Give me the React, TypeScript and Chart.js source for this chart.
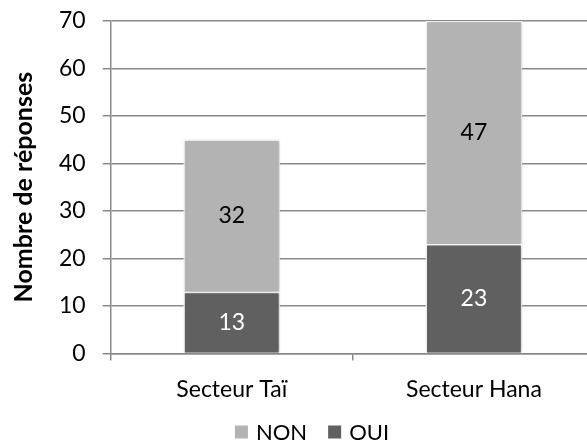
import React, { useEffect, useRef } from "react";
import { Chart, registerables } from "chart.js";

Chart.register(...registerables);

const categories = ["Secteur Taï", "Secteur Hana"];
const nonValues = [32, 47];
const ouiValues = [13, 23];
const yTicks = [0, 10, 20, 30, 40, 50, 60, 70];

const FONT = "Lato, 'Open Sans', sans-serif";
const CANVAS_W = 624;
const CANVAS_H = 453;
const CANVAS_TOP = -10;

const valueLabels = {
  id: "valueLabels",
  afterDatasetsDraw(chart: any) {
    const ctx = chart.ctx;
    ctx.save();
    chart.data.datasets.forEach((ds: any, i: number) => {
      const meta = chart.getDatasetMeta(i);
      meta.data.forEach((el: any, j: number) => {
        const p = el.getCenterPoint();
        ctx.font = `23px ${FONT}`;
        ctx.fillStyle = ds.labelColor;
        ctx.textAlign = "center";
        ctx.textBaseline = "middle";
        ctx.fillText(String(ds.data[j]), p.x, p.y);
      });
    });
    ctx.restore();
  },
};

const barShadow = {
  id: "barShadow",
  beforeDatasetsDraw(chart: any) {
    const ctx = chart.ctx;
    ctx.save();
    ctx.shadowColor = "rgba(0,0,0,0.22)";
    ctx.shadowBlur = 4;
    ctx.shadowOffsetX = 1;
    ctx.shadowOffsetY = 0;
  },
  afterDatasetsDraw(chart: any) {
    chart.ctx.restore();
  },
};

// Bottom legend: NON then OUI
const bottomLegend = {
  id: "bottomLegend",
  afterDraw(chart: any) {
    const ctx = chart.ctx;
    const items = [...chart.data.datasets].reverse().map((d: any) => ({
      text: d.label,
      color: d.backgroundColor,
    }));
    const box = 13;
    const gapBoxText = 8;
    const gapItems = 21;
    ctx.save();
    ctx.font = `22px ${FONT}`;
    ctx.textBaseline = "middle";
    ctx.textAlign = "left";
    const widths = items.map((it) => box + gapBoxText + ctx.measureText(it.text).width);
    const total = widths.reduce((a, b) => a + b, 0) + gapItems * (items.length - 1);
    let x = chart.width / 2 - total / 2;
    const y = 432 - CANVAS_TOP;
    items.forEach((it, i) => {
      ctx.fillStyle = it.color;
      ctx.fillRect(x, y - box / 2, box, box);
      ctx.fillStyle = "#000";
      ctx.fillText(it.text, x + box + gapBoxText, y + 1);
      x += widths[i] + gapItems;
    });
    ctx.restore();
  },
};

export default function App() {
  const ref = useRef<HTMLCanvasElement | null>(null);
  useEffect(() => {
    if (!ref.current) return;
    const chart = new Chart(ref.current, {
      type: "bar",
      data: {
        labels: categories,
        datasets: [
          {
            label: "OUI",
            data: ouiValues,
            backgroundColor: "#606060",
            borderColor: "#ffffff",
            borderWidth: 1.5,
            labelColor: "#ffffff",
            barPercentage: 0.4,
            categoryPercentage: 1,
          } as any,
          {
            label: "NON",
            data: nonValues,
            backgroundColor: "#b3b3b3",
            borderColor: "#ffffff",
            borderWidth: 1.5,
            labelColor: "#000000",
            barPercentage: 0.4,
            categoryPercentage: 1,
          } as any,
        ],
      },
      options: {
        responsive: false,
        animation: false,
        layout: { padding: { top: 0, right: 29, left: 9, bottom: 25 } },
        plugins: {
          legend: { display: false },
          tooltip: { enabled: false },
        },
        scales: {
          x: {
            stacked: true,
            grid: {
              offset: true,
              drawOnChartArea: false,
              drawTicks: true,
              tickLength: 7,
              color: "#8a8a8a",
              lineWidth: 1.5,
            },
            border: { display: true, color: "#8a8a8a", width: 1.5 },
            ticks: {
              color: "#000",
              font: { family: FONT, size: 23 },
              padding: 15,
            },
          },
          y: {
            stacked: true,
            min: 0,
            max: 70,
            afterBuildTicks: (axis: any) => {
              axis.ticks = yTicks.map((v) => ({ value: v }));
            },
            grid: {
              color: "#8a8a8a",
              lineWidth: 1.5,
              tickLength: 8,
            },
            border: { display: true, color: "#8a8a8a", width: 1.5 },
            ticks: {
              color: "#000",
              font: { family: FONT, size: 23 },
              padding: 17,
            },
            title: {
              display: true,
              text: "Nombre de réponses",
              color: "#000",
              font: { family: FONT, size: 25, weight: "bold" },
              padding: { top: 0, bottom: 3 },
            },
          },
        },
      },
      plugins: [barShadow, valueLabels, bottomLegend],
    });
    return () => chart.destroy();
  }, []);
  return (
    <div
      style={{
        position: "fixed",
        left: 0,
        top: 0,
        width: 587,
        height: 443,
        overflow: "hidden",
        background: "#fff",
      }}
    >
      <canvas
        ref={ref}
        width={CANVAS_W}
        height={CANVAS_H}
        style={{ display: "block", position: "absolute", left: 0, top: CANVAS_TOP }}
      />
    </div>
  );
}
